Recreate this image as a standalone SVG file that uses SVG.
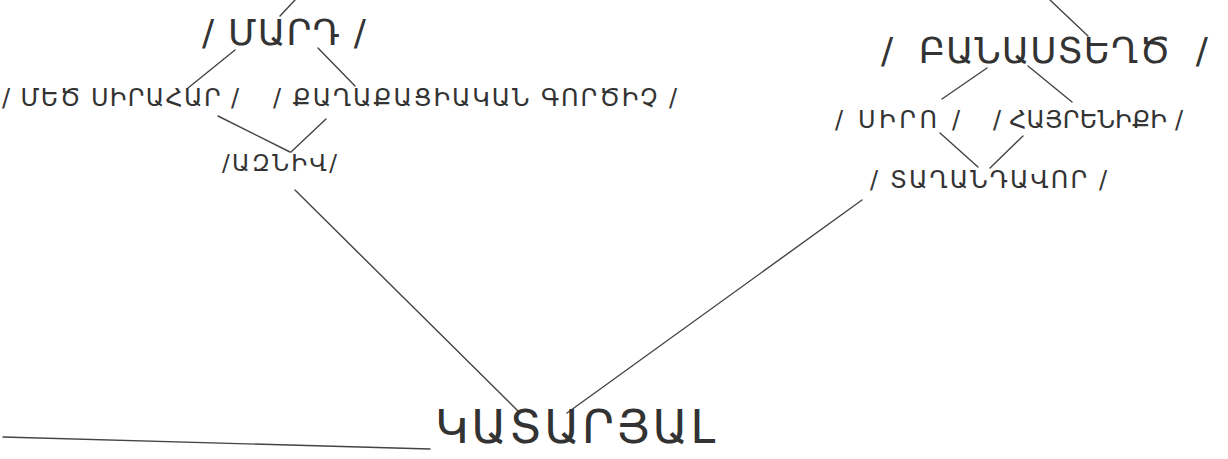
<svg xmlns="http://www.w3.org/2000/svg" width="1228" height="459" viewBox="0 0 1228 459">
<style>
text{font-family:"DejaVu Sans","Liberation Sans",sans-serif;fill:#333}
.big{font-size:36px}
.mid{font-size:24px}
.sm{font-size:23px}
.huge{font-size:46px}
.ln{stroke:#444;stroke-width:1.4;fill:none;stroke-linecap:round}
</style>
<rect width="1228" height="459" fill="#fff"/>
<g id="connectors">
<line class="ln" x1="295" y1="0" x2="280" y2="16"/>
<line class="ln" x1="235" y1="50" x2="188" y2="88"/>
<line class="ln" x1="318" y1="48" x2="355" y2="86"/>
<line class="ln" x1="218" y1="116" x2="290" y2="152"/>
<line class="ln" x1="326" y1="119" x2="291" y2="152"/>
<line class="ln" x1="295" y1="190" x2="520" y2="413"/>
<line class="ln" x1="1050" y1="0" x2="1088" y2="36"/>
<line class="ln" x1="987" y1="68" x2="942" y2="99"/>
<line class="ln" x1="1028" y1="66" x2="1072" y2="102"/>
<line class="ln" x1="940" y1="133" x2="978" y2="167"/>
<line class="ln" x1="1023" y1="136" x2="990" y2="168"/>
<line class="ln" x1="862" y1="200" x2="567" y2="413"/>
<line class="ln" x1="3" y1="437" x2="430" y2="449"/>
</g>
<g id="n-mard"><text class="big" x="202" y="45" textLength="164" lengthAdjust="spacing" xml:space="preserve">/ ՄԱՐԴ /</text></g>
<g id="n-siraharr"><text class="mid" x="2" y="106" textLength="237" lengthAdjust="spacing" xml:space="preserve">/ ՄԵԾ ՍԻՐԱՀԱՐ /</text></g>
<g id="n-qaghaqaciakan"><text class="mid" x="273" y="106" textLength="404" lengthAdjust="spacing" xml:space="preserve">/ ՔԱՂԱՔԱՑԻԱԿԱՆ ԳՈՐԾԻՉ /</text></g>
<g id="n-azniv"><text class="sm" x="222" y="171" textLength="115" lengthAdjust="spacing">/ԱԶՆԻՎ/</text></g>
<g id="n-banasteghc"><text class="big" x="881" y="63" textLength="327" lengthAdjust="spacing" xml:space="preserve">/  ԲԱՆԱՍՏԵՂԾ  /</text></g>
<g id="n-siro"><text class="mid" x="835" y="128" textLength="125" lengthAdjust="spacing" xml:space="preserve">/ ՍԻՐՈ /</text></g>
<g id="n-hayreniqi"><text class="mid" x="993" y="128" textLength="190" lengthAdjust="spacing" xml:space="preserve">/ ՀԱՅՐԵՆԻՔԻ /</text></g>
<g id="n-taghandavor"><text class="mid" x="870" y="188" textLength="237" lengthAdjust="spacing" xml:space="preserve">/ ՏԱՂԱՆԴԱՎՈՐ /</text></g>
<g id="n-katarjal"><text class="huge" x="435" y="443" textLength="280" lengthAdjust="spacing">ԿԱՏԱՐՅԱԼ</text></g>
</svg>
